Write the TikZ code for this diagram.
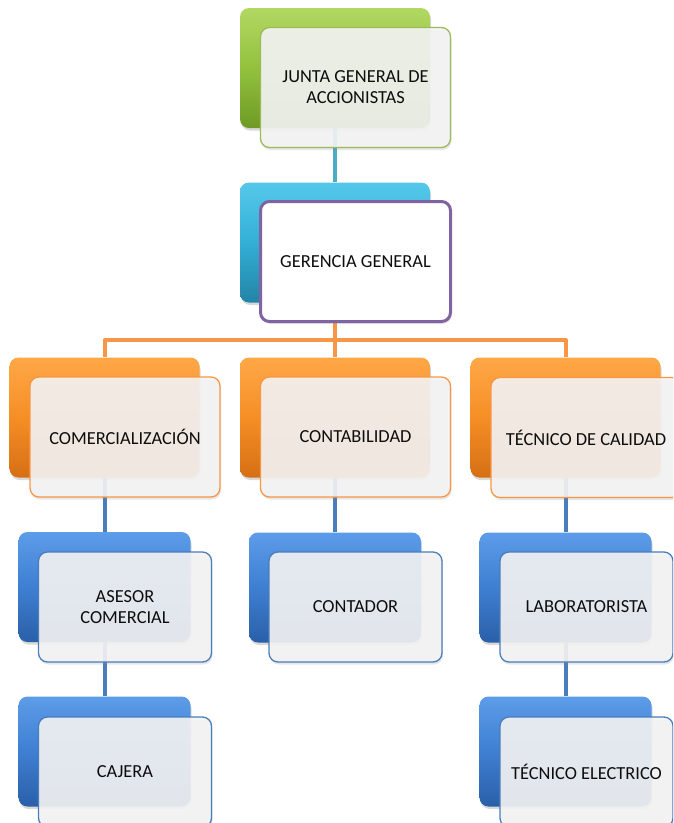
\documentclass[tikz,border=0pt]{standalone}
\usepackage{fontspec}
\setmainfont{Carlito}
\usetikzlibrary{shadows,backgrounds}
\definecolor{grnTop}{HTML}{B2D862}
\definecolor{grnMid}{HTML}{93C13E}
\definecolor{grnBot}{HTML}{6E9A24}
\definecolor{grnLine}{HTML}{9BBB59}
\definecolor{tealTop}{HTML}{55C8EA}
\definecolor{tealMid}{HTML}{33AFD6}
\definecolor{tealBot}{HTML}{2384A6}
\definecolor{tealLine}{HTML}{4BACC6}
\definecolor{orgTop}{HTML}{FFA848}
\definecolor{orgMid}{HTML}{F58E24}
\definecolor{orgBot}{HTML}{D66F14}
\definecolor{orgLine}{HTML}{F79646}
\definecolor{bluTop}{HTML}{5C9CE8}
\definecolor{bluMid}{HTML}{3F7FD2}
\definecolor{bluBot}{HTML}{2A5FA8}
\definecolor{bluLine}{HTML}{4A7EBB}
\definecolor{purpLine}{HTML}{8064A2}
\definecolor{frontFill}{HTML}{F4F4F4}
\definecolor{txtCol}{HTML}{0D0D0D}
\begin{document}
\begin{tikzpicture}[x=1pt,y=-1pt,
  backbox/.style={rounded corners=9pt, inner sep=0pt, draw=none,
    drop shadow={opacity=0.3, shadow xshift=1pt, shadow yshift=-2.5pt}},
  bigback/.style={backbox, minimum width=190pt, minimum height=120pt},
  smallback/.style={backbox, minimum width=172pt, minimum height=110pt},
  frontbox/.style={rounded corners=9pt, fill=frontFill, fill opacity=0.9, text opacity=1,
    line width=1.3pt, text=txtCol, align=center,
    font=\fontsize{18.4}{21}\selectfont,
    drop shadow={opacity=0.2, shadow xshift=1pt, shadow yshift=-2.5pt}},
  bigfront/.style={frontbox, minimum width=190pt, minimum height=120pt},
  smallfront/.style={frontbox, minimum width=173pt, minimum height=110pt},
  grnshade/.style={top color=grnTop, bottom color=grnBot, middle color=grnMid},
  tealshade/.style={top color=tealTop, bottom color=tealBot, middle color=tealMid},
  orgshade/.style={top color=orgTop, bottom color=orgBot, middle color=orgMid},
  blushade/.style={top color=bluTop, bottom color=bluBot, middle color=bluMid},
  conn/.style={line width=4pt, line join=round},
]
\useasboundingbox (0,0) rectangle (673,823);
\clip (0,0) rectangle (673,823);

% level 0
\node[bigback, grnshade] (jB) at (335,68) {};
\node[bigfront, draw=grnLine] (jF) at (355.5,87.5) {JUNTA GENERAL DE\\ACCIONISTAS};
% level 1
\node[bigback, tealshade] (gB) at (335,242.5) {};
\node[bigfront, draw=purpLine, line width=3pt, fill=white, fill opacity=1] (gF) at (355.5,261.5) {GERENCIA GENERAL};
% level 2
\node[bigback, orgshade] (cB) at (104.5,417.5) {};
\node[bigfront, draw=orgLine] (cF) at (125,437) {COMERCIALIZACIÓN};
\node[bigback, orgshade] (kB) at (335,417.5) {};
\node[bigfront, draw=orgLine] (kF) at (355.5,437) {CONTABILIDAD};
\node[bigback, orgshade] (tB) at (565.5,417.5) {};
\node[bigfront, draw=orgLine] (tF) at (586,437.5) {TÉCNICO DE CALIDAD};
% level 3
\node[smallback, blushade] (aB) at (104.5,587) {};
\node[smallfront, draw=bluLine] (aF) at (125,607) {ASESOR\\COMERCIAL};
\node[smallback, blushade] (oB) at (335,587.5) {};
\node[smallfront, draw=bluLine] (oF) at (355.5,607) {CONTADOR};
\node[smallback, blushade] (lB) at (565.5,587.5) {};
\node[smallfront, draw=bluLine] (lF) at (586.5,607) {LABORATORISTA};
% level 4
\node[smallback, blushade] (caB) at (104.5,751.5) {};
\node[smallfront, draw=bluLine] (caF) at (125,772) {CAJERA};
\node[smallback, blushade] (eB) at (565.5,751.5) {};
\node[smallfront, draw=bluLine] (eF) at (586.5,772) {TÉCNICO ELECTRICO};

\coordinate (bus) at (335,340);
\begin{scope}[on background layer]
  \draw[conn, tealLine] (jB.south) -- (gB.north);
  \draw[conn, orgLine] (gB.south) -- (bus);
  \draw[conn, orgLine] (cB.north) |- (bus) -| (tB.north);
  \draw[conn, orgLine] (kB.north) -- (kB.north |- bus);
  \draw[conn, bluLine] (cB.south) -- (aB.north);
  \draw[conn, bluLine] (aB.south) -- (caB.north);
  \draw[conn, bluLine] (kB.south) -- (oB.north);
  \draw[conn, bluLine] (tB.south) -- (lB.north);
  \draw[conn, bluLine] (lB.south) -- (eB.north);
\end{scope}
\end{tikzpicture}
\end{document}
